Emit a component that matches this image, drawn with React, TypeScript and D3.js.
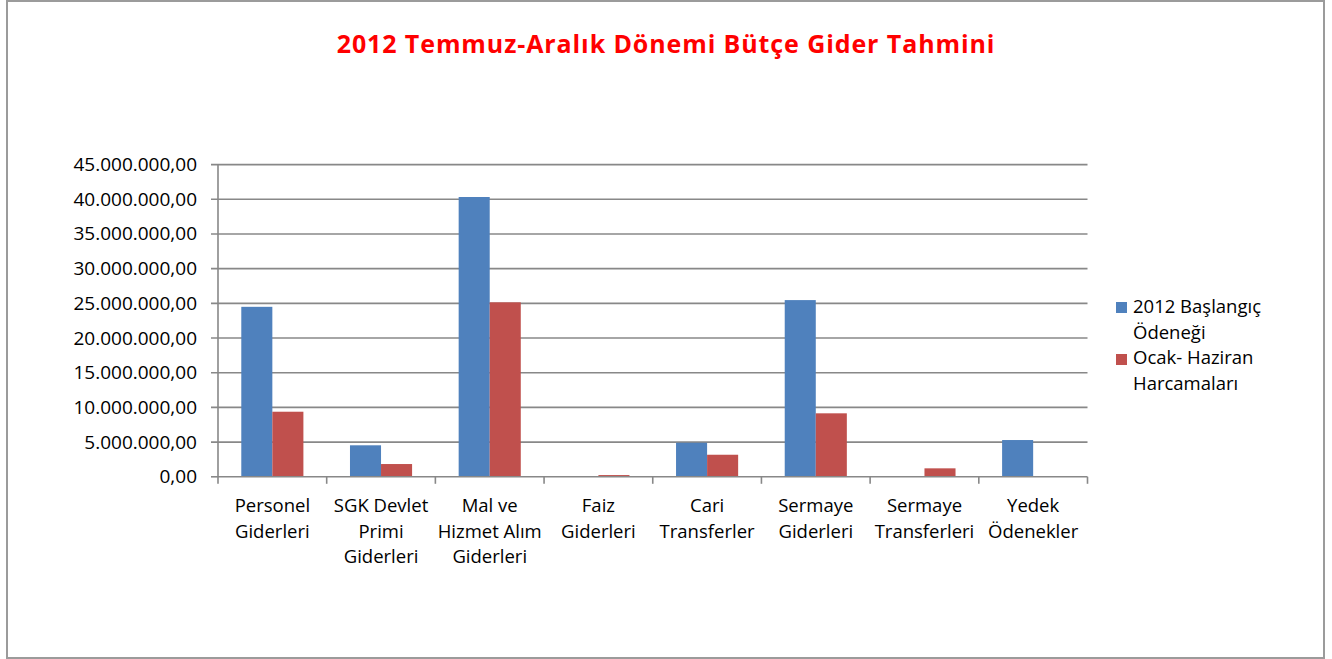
import * as d3 from "d3";

const categories = [
  ["Personel", "Giderleri"],
  ["SGK Devlet", "Primi", "Giderleri"],
  ["Mal ve", "Hizmet Alım", "Giderleri"],
  ["Faiz", "Giderleri"],
  ["Cari", "Transferler"],
  ["Sermaye", "Giderleri"],
  ["Sermaye", "Transferleri"],
  ["Yedek", "Ödenekler"],
];
const seriesNames = ["2012 Başlangıç Ödeneği", "Ocak- Haziran Harcamaları"];
const legendLines = [["2012 Başlangıç", "Ödeneği"], ["Ocak- Haziran", "Harcamaları"]];
const baslangic = [24500000, 4540000, 40330000, 0, 4910000, 25470000, 0, 5300000];
const harcama = [9380000, 1840000, 25150000, 250000, 3180000, 9150000, 1220000, 0];
const yTicks = [0, 5e6, 10e6, 15e6, 20e6, 25e6, 30e6, 35e6, 40e6, 45e6];
const colors = ["#4F81BD", "#C0504D"];

const W = 1332;
const H = 659;
const font = "'Open Sans', sans-serif";

export default function App() {
  const keys = categories.map((c) => c.join(" "));
  const x = d3.scaleBand().domain(keys).range([218, 1087.5]);
  const xs = d3
    .scaleBand()
    .domain(seriesNames)
    .range([0, x.bandwidth()])
    .paddingInner(0)
    .paddingOuter(0.75);
  const y = d3.scaleLinear().domain([0, 45e6]).range([476.8, 164.6]);
  const trFormat = d3.formatLocale({
    decimal: ",",
    thousands: ".",
    grouping: [3],
    currency: ["", ""],
  }).format(",.2f");
  const values = [baslangic, harcama];
  const axisColor = "#888888";

  return (
    <svg
      width={W}
      height={H}
      style={{ position: "absolute", left: 0, top: 0, background: "#fff" }}
    >
      <rect x={7} y={1} width={1317} height={657} fill="#fff" stroke="#9b9b9b" strokeWidth={2} />
      <text
        x={666}
        y={53}
        textAnchor="middle"
        fill="#FF0000"
        fontFamily={font}
        fontWeight="bold"
        fontSize={25}
        letterSpacing={0.9}
      >
        2012 Temmuz-Aralık Dönemi Bütçe Gider Tahmini
      </text>

      {/* gridlines + y ticks */}
      {yTicks.map((t) => (
        <g key={t}>
          <line x1={211} x2={t === 0 ? 218 : 1087.5} y1={y(t)} y2={y(t)} stroke={axisColor} strokeWidth={1.6} />
          <text
            x={197}
            y={y(t) + 6.5}
            textAnchor="end"
            fontFamily={font}
            fontSize={19}
            fill="#000"
          >
            {trFormat(t)}
          </text>
        </g>
      ))}

      {/* bars */}
      {values.map((vals, si) => (
        <g key={si} fill={colors[si]}>
          {vals.map((v, i) => (
            <rect
              key={i}
              x={x(keys[i])! + xs(seriesNames[si])!}
              y={y(v)}
              width={xs.bandwidth()}
              height={y(0) - y(v)}
            />
          ))}
        </g>
      ))}

      {/* axes */}
      <line x1={218} x2={218} y1={y(45e6)} y2={y(0)} stroke={axisColor} strokeWidth={1.6} />
      <line x1={218} x2={1087.5} y1={y(0)} y2={y(0)} stroke={axisColor} strokeWidth={1.6} />
      {keys.concat(["end"]).map((k, i) => {
        const px = i < keys.length ? x(k)! : 1087.5;
        return <line key={k} x1={px} x2={px} y1={y(0)} y2={y(0) + 7} stroke={axisColor} strokeWidth={1.6} />;
      })}

      {/* category labels */}
      {categories.map((lines, i) => (
        <text
          key={i}
          x={x(keys[i])! + x.bandwidth() / 2}
          textAnchor="middle"
          fontFamily={font}
          fontSize={18.5}
          fill="#000"
        >
          {lines.map((l, j) => (
            <tspan key={j} x={x(keys[i])! + x.bandwidth() / 2} y={512 + j * 25.5}>
              {l}
            </tspan>
          ))}
        </text>
      ))}

      {/* legend */}
      {legendLines.map((lines, si) => (
        <g key={si}>
          <rect x={1116} y={302 + si * 52} width={11} height={11} fill={colors[si]} />
          {lines.map((l, j) => (
            <text
              key={j}
              x={1133}
              y={313 + si * 51 + j * 25.5}
              fontFamily={font}
              fontSize={18.5}
              fill="#000"
            >
              {l}
            </text>
          ))}
        </g>
      ))}
    </svg>
  );
}
